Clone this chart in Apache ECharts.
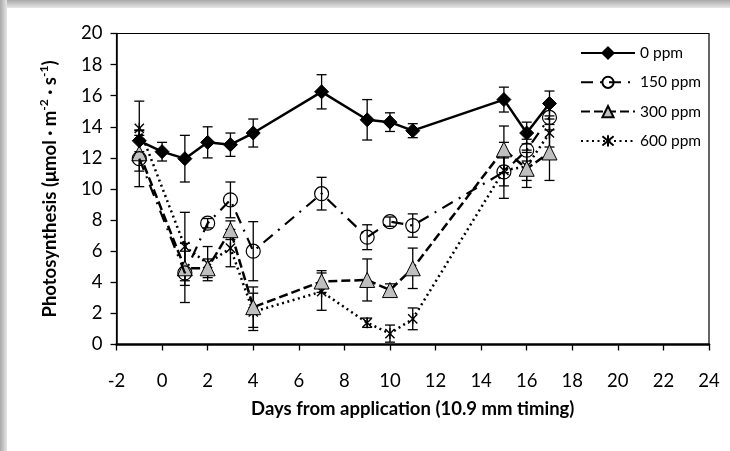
<!DOCTYPE html>
<html>
<head>
<meta charset="utf-8">
<script src="https://cdn.jsdelivr.net/npm/echarts@6/dist/echarts.min.js"></script>
<style>
  html, body { margin: 0; padding: 0; background: #fff; }
  #chart { width: 730px; height: 451px; }
</style>
</head>
<body>
<div id="chart"></div>
<script>
// days after application
var days = [-1, 0, 1, 2, 3, 4, 7, 9, 10, 11, 15, 16, 17];

// mean photosynthesis and error (null = not measured)
var ppm0 = [13.1, 12.4, 11.95, 13.0, 12.85, 13.6, 16.25, 14.45, 14.3, 13.75, 15.75, 13.6, 15.5];
var ppm0Err = [0.7, 0.6, 1.5, 1.0, 0.75, 0.9, 1.1, 1.3, 0.6, 0.45, 0.8, 0.7, 0.8];
var ppm150 = [11.95, null, 4.6, 7.8, 9.3, 6.0, 9.7, 6.9, 7.9, 7.65, 11.1, 12.5, 14.6];
var ppm150Err = [1.8, null, 1.9, 0.3, 1.15, 1.9, 1.05, 0.8, 0.3, 0.75, 0.9, 0.7, 0.8];
var ppm300 = [12.3, null, 4.9, 4.9, 7.35, 2.4, 4.05, 4.15, 3.5, 4.9, 12.55, 11.3, 12.35];
var ppm300Err = [1.15, null, 1.1, 0.6, 0.6, 1.3, 0.7, 1.35, 0.4, 1.3, 1.5, 1.2, 1.8];
var ppm600 = [13.9, null, 6.3, 5.2, 6.2, 2.1, 3.4, 1.4, 0.7, 1.65, 11.2, 11.45, 13.6];
var ppm600Err = [1.75, null, 2.2, 1.1, 1.2, 1.2, 1.2, 0.3, 0.55, 0.7, 1.8, 0.9, 0.9];

var xTicks = { min: -2, max: 24, interval: 2 };
var yTicks = { min: 0, max: 20, interval: 2 };

var FONT = 'Lato, "Open Sans", sans-serif';

var chart = echarts.init(document.getElementById('chart'));

function pairs(vals) {
  return days.map(function (d, i) { return vals[i] == null ? [d, null] : [d, vals[i]]; });
}
function bars(vals, errs) {
  var out = [];
  days.forEach(function (d, i) {
    if (vals[i] != null) out.push([d, vals[i] - errs[i], vals[i] + errs[i]]);
  });
  return out;
}

function errorSeries(vals, errs) {
  return {
    type: 'custom',
    silent: true,
    z: 1,
    data: bars(vals, errs),
    renderItem: function (params, api) {
      var lo = api.coord([api.value(0), api.value(1)]);
      var hi = api.coord([api.value(0), api.value(2)]);
      var w = 5;
      var st = { stroke: '#000', lineWidth: 1.3 };
      return {
        type: 'group',
        children: [
          { type: 'line', shape: { x1: lo[0], y1: lo[1], x2: hi[0], y2: hi[1] }, style: st },
          { type: 'line', shape: { x1: lo[0] - w, y1: lo[1], x2: lo[0] + w, y2: lo[1] }, style: st },
          { type: 'line', shape: { x1: hi[0] - w, y1: hi[1], x2: hi[0] + w, y2: hi[1] }, style: st }
        ]
      };
    }
  };
}

var starPath = 'path://M0,0L10,10M10,0L0,10M5,-1L5,11';

var option = {
  backgroundColor: '#fff',
  animation: false,
  textStyle: { fontFamily: FONT },
  graphic: [
    {
      type: 'rect', left: 0, top: 0, silent: true, z: -10,
      shape: { width: 730, height: 8 },
      style: { fill: new echarts.graphic.LinearGradient(0, 0, 0, 1, [
        { offset: 0, color: '#a8a8a8' }, { offset: 1, color: '#e6e6e6' }]) }
    },
    {
      type: 'rect', left: 0, top: 0, silent: true, z: -10,
      shape: { width: 7, height: 451 },
      style: { fill: new echarts.graphic.LinearGradient(0, 0, 1, 0, [
        { offset: 0, color: '#a8a8a8' }, { offset: 1, color: '#e6e6e6' }]) }
    }
  ],
  grid: {
    left: 116.5, right: 21, top: 33.5, bottom: 106.5,
    show: true, borderColor: '#000', borderWidth: 1.2, backgroundColor: 'transparent'
  },
  legend: {
    orient: 'vertical',
    left: 575, top: 40,
    itemWidth: 54, itemHeight: 14, itemGap: 13.3,
    textStyle: { fontFamily: FONT, fontSize: 15.5, color: '#000' },
    data: ['0 ppm', '150 ppm', '300 ppm', '600 ppm']
  },
  xAxis: {
    type: 'value',
    min: xTicks.min, max: xTicks.max, interval: xTicks.interval,
    name: 'Days from application (10.9 mm timing)',
    nameLocation: 'middle', nameGap: 55,
    nameTextStyle: { fontFamily: FONT, fontSize: 18.5, fontWeight: 'bold', color: '#000' },
    axisLine: { lineStyle: { color: '#000', width: 2.5 } },
    axisTick: { inside: false, length: 6, lineStyle: { color: '#000', width: 1.3 } },
    axisLabel: { fontFamily: FONT, fontSize: 18.5, color: '#000', margin: 27 },
    splitLine: { show: false }
  },
  yAxis: {
    type: 'value',
    min: yTicks.min, max: yTicks.max, interval: yTicks.interval,
    name: '{b|Photosynthesis (μmol · m}{s|-2}{b| · s}{s|-1}{b|)}',
    nameLocation: 'middle', nameGap: 55, nameRotate: 90,
    nameTextStyle: {
      rich: {
        b: { fontFamily: FONT, fontSize: 18.5, fontWeight: 'bold', color: '#000', lineHeight: 23 },
        s: { fontFamily: FONT, fontSize: 12, fontWeight: 'bold', color: '#000', verticalAlign: 'top', lineHeight: 23 }
      }
    },
    axisLine: { show: true, onZero: false, lineStyle: { color: '#000', width: 1.5 } },
    axisTick: { show: true, inside: false, length: 6, lineStyle: { color: '#000', width: 1.3 } },
    axisLabel: { fontFamily: FONT, fontSize: 18.5, color: '#000', margin: 14 },
    splitLine: { show: false }
  },
  series: [
    errorSeries(ppm600, ppm600Err),
    errorSeries(ppm300, ppm300Err),
    errorSeries(ppm150, ppm150Err),
    errorSeries(ppm0, ppm0Err),
    {
      name: '600 ppm', type: 'line', z: 3, connectNulls: true,
      data: pairs(ppm600),
      symbol: starPath, symbolSize: 11, symbolKeepAspect: true,
      lineStyle: { color: '#000', width: 2.5, type: [2, 3.5] },
      itemStyle: { color: '#000', borderColor: '#000', borderWidth: 1.4 }
    },
    {
      name: '300 ppm', type: 'line', z: 4, connectNulls: true,
      data: pairs(ppm300),
      symbol: 'triangle', symbolSize: 15,
      lineStyle: { color: '#000', width: 2.5, type: [9, 4] },
      itemStyle: { color: '#bfbfbf', borderColor: '#000', borderWidth: 1 }
    },
    {
      name: '150 ppm', type: 'line', z: 5, connectNulls: true,
      data: pairs(ppm150),
      symbol: 'circle', symbolSize: 14,
      lineStyle: { color: '#000', width: 2.2, type: [12, 7, 2, 7] },
      itemStyle: { color: 'rgba(255,255,255,0)', borderColor: '#000', borderWidth: 1.2 }
    },
    {
      name: '0 ppm', type: 'line', z: 6,
      data: pairs(ppm0),
      symbol: 'diamond', symbolSize: 14,
      lineStyle: { color: '#000', width: 2.5 },
      itemStyle: { color: '#000', borderColor: '#000', borderWidth: 1 }
    }
  ]
};

chart.setOption(option);
</script>
</body>
</html>
